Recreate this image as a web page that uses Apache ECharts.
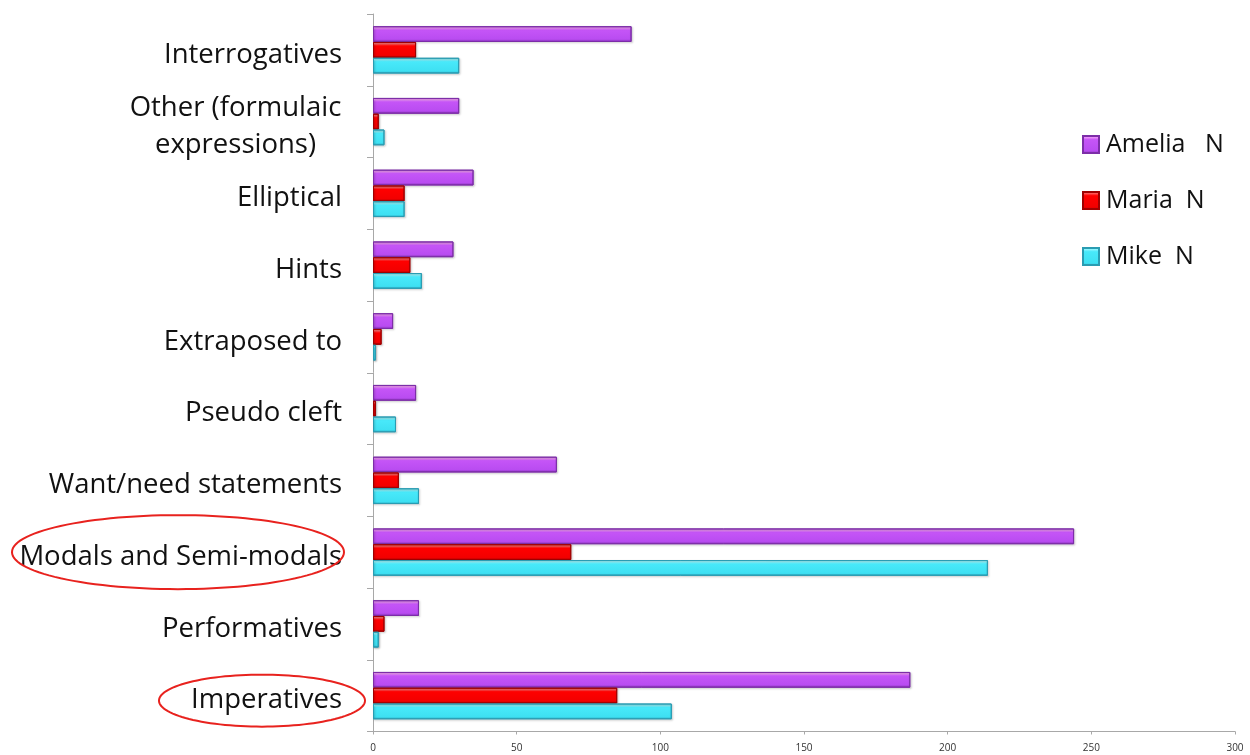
<!DOCTYPE html>
<html>
<head>
<meta charset="utf-8">
<script src="https://cdn.jsdelivr.net/npm/echarts@6/dist/echarts.min.js"></script>
<style>
html,body{margin:0;padding:0;background:#fff;}
#chart{width:1250px;height:755px;}
</style>
</head>
<body>
<div id="chart"></div>
<script>
// Categories, top to bottom
const categories = [
  'Interrogatives',
  'Other (formulaic\nexpressions)',
  'Elliptical',
  'Hints',
  'Extraposed to',
  'Pseudo cleft',
  'Want/need statements',
  'Modals and Semi-modals',
  'Performatives',
  'Imperatives'
];
const seriesNames = ['Amelia   N', 'Maria  N', 'Mike  N'];
const ameliaN = [90, 30, 35, 28, 7, 15, 64, 244, 16, 187];
const mariaN  = [15, 2, 11, 13, 3, 1, 9, 69, 4, 85];
const mikeN   = [30, 4, 11, 17, 1, 8, 16, 214, 2, 104];
const xTicks = [0, 50, 100, 150, 200, 250, 300];
const highlighted = ['Modals and Semi-modals', 'Imperatives'];

function grad(stops) {
  return new echarts.graphic.LinearGradient(0, 0, 0, 1,
    stops.map(s => ({offset: s[0], color: s[1]})));
}
const styles = [
  {color: grad([[0,'#d37cf6'],[0.1,'#f49cfb'],[0.25,'#c555f7'],[0.82,'#b94cf1'],[1,'#8a36bb']]), borderColor: '#7d2ea8'},
  {color: grad([[0,'#ff5a5a'],[0.1,'#ff6d6d'],[0.25,'#ff0000'],[0.85,'#f20000'],[1,'#b00000']]), borderColor: '#a00000'},
  {color: grad([[0,'#7ff2ff'],[0.1,'#9cf8ff'],[0.25,'#48e9fa'],[0.85,'#3ee0f2'],[1,'#2aaec6']]), borderColor: '#2a9cb2'}
];
const values = [ameliaN, mariaN, mikeN];

const chart = echarts.init(document.getElementById('chart'), null, {renderer: 'canvas'});
const FONT = '"Open Sans", "Noto Sans", sans-serif';
const LABEL_SIZE = 27.5;

const option = {
  animation: false,
  backgroundColor: '#ffffff',
  grid: {left: 373, right: 15, top: 14, bottom: 23.5, containLabel: false},
  legend: {
    orient: 'vertical',
    left: 1082,
    top: 132,
    padding: 0,
    itemWidth: 16,
    itemHeight: 17,
    itemGap: 31,
    icon: 'rect',
    data: seriesNames,
    textStyle: {fontFamily: FONT, fontSize: 25, color: '#111', padding: [0, 0, 0, 2]}
  },
  xAxis: {
    type: 'value',
    min: 0, max: 300, interval: 50,
    axisLine: {show: true, lineStyle: {color: '#a8a8a8', width: 1}},
    axisTick: {show: true, length: 3, lineStyle: {color: '#a8a8a8'}},
    splitLine: {show: false},
    axisLabel: {
      fontFamily: FONT, fontSize: 10, color: '#333', margin: 12,
      formatter: v => xTicks.includes(v) ? String(v) : ''
    }
  },
  yAxis: {
    type: 'category',
    data: categories,
    inverse: true,
    axisLine: {show: true, lineStyle: {color: '#a8a8a8', width: 1}},
    axisTick: {show: true, length: 6, lineStyle: {color: '#a8a8a8'}},
    axisLabel: {
      fontFamily: FONT, fontSize: LABEL_SIZE, color: '#111', margin: 31,
      lineHeight: 37, padding: [10, 0, 0, 0],
      formatter: function (v) {
        if (v.indexOf('\n') >= 0) {
          return v.split('\n').map(s => '{c|' + s + '}').join('\n');
        }
        return v;
      },
      rich: {
        c: {fontFamily: FONT, fontSize: LABEL_SIZE, color: '#111', width: 213, align: 'center', lineHeight: 37}
      }
    }
  },
  series: seriesNames.map((name, i) => ({
    name: name,
    type: 'bar',
    data: values[i],
    barGap: '0%',
    barCategoryGap: '34%',
    itemStyle: {
      color: styles[i].color,
      borderColor: styles[i].borderColor,
      borderWidth: 1,
      shadowColor: 'rgba(0,0,0,0.25)',
      shadowBlur: 2,
      shadowOffsetX: 1,
      shadowOffsetY: 1
    }
  }))
};
chart.setOption(option);

// Red annotation ellipses around highlighted labels
function ellipsePoints(cx, cy, rx, ry) {
  const pts = [];
  for (let k = 0; k < 120; k++) {
    const a = k / 120 * Math.PI * 2;
    pts.push([cx + rx * Math.cos(a), cy + ry * Math.sin(a)]);
  }
  return pts;
}
const ellSpec = {
  'Modals and Semi-modals': {cx: 178, dy: 0, rx: 166, ry: 37},
  'Imperatives': {cx: 262, dy: 5, rx: 103, ry: 26}
};
const graphics = highlighted.map(cat => {
  const y = chart.convertToPixel({yAxisIndex: 0}, categories.indexOf(cat));
  const s = ellSpec[cat];
  return {
    type: 'polygon',
    shape: {points: ellipsePoints(s.cx, y + s.dy, s.rx, s.ry)},
    style: {fill: 'none', stroke: '#e8221e', lineWidth: 2},
    z: 100
  };
});
chart.setOption({graphic: graphics});
</script>
</body>
</html>
